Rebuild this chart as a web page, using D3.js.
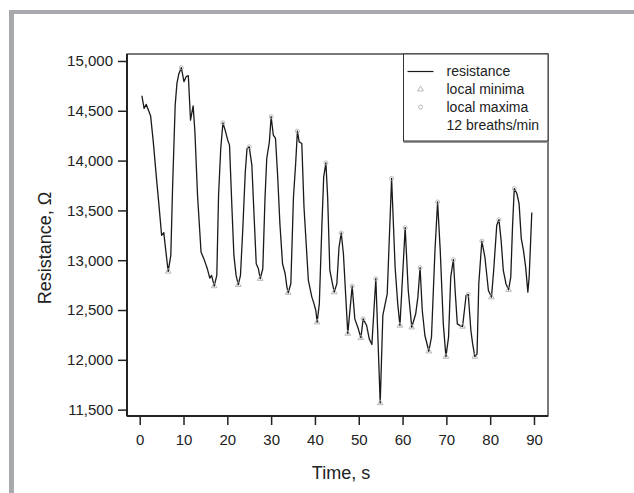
<!DOCTYPE html>
<html>

<head>
    <meta charset="utf-8">
    <script src="https://d3js.org/d3.v7.min.js"></script>
    <style>
        body { margin: 0; background: #fff; }
        text { font-family: "Liberation Sans", Arial, Helvetica, sans-serif; fill: #222; }
    </style>
</head>

<body>
    <script>
        var timeS = [0.5, 1.0, 1.5, 2.5, 3.1, 3.9, 4.4, 5.0, 5.5, 5.9, 6.5, 7.1, 7.5, 8.1, 8.5, 8.9, 9.5, 10.1, 10.6, 11.1,
            11.6, 12.2, 12.6, 13.2, 14.0, 14.7, 15.4, 16.0, 16.4, 16.8, 17.0, 17.6, 18.0, 18.5, 19.0, 19.5, 20.1, 20.5, 21.0, 21.5,
            22.0, 22.5, 23.0, 23.5, 24.1, 24.5, 25.0, 25.6, 26.0, 26.6, 27.1, 27.5, 28.1, 28.6, 29.0, 29.6, 30.0, 30.5, 31.0, 31.5,
            32.0, 32.6, 33.2, 33.6, 33.9, 34.5, 35.1, 35.6, 36.0, 36.4, 37.0, 37.5, 38.5, 39.3, 39.8, 40.2, 40.5, 41.0, 41.6, 42.0,
            42.5, 42.9, 43.4, 44.0, 44.4, 45.0, 45.5, 46.0, 46.5, 47.0, 47.5, 48.5, 49.1, 49.9, 50.5, 51.0, 51.8, 52.4, 53.0, 53.9,
            54.9, 55.5, 56.5, 57.5, 58.3, 58.9, 59.4, 60.6, 61.3, 62.1, 63.0, 63.5, 64.0, 64.5, 65.1, 66.0, 66.6, 67.4, 68.0, 68.6,
            69.3, 69.9, 70.5, 71.0, 71.6, 72.0, 72.5, 73.1, 73.7, 74.2, 74.5, 75.0, 75.6, 76.0, 76.5, 77.0, 77.4, 78.1, 78.8, 79.6,
            80.3, 80.8, 81.5, 82.0, 82.5, 83.0, 83.6, 84.2, 84.7, 85.1, 85.5, 86.1, 86.6, 87.1, 87.6, 88.1, 88.6, 88.9, 89.5];

        var resistance = [14651, 14524, 14564, 14447, 14188, 13786, 13551, 13250, 13277, 13116, 12887, 13048, 13722, 14557, 14776, 14866, 14933, 14792, 14842, 14852,
            14406, 14550, 14289, 13652, 13082, 13008, 12920, 12820, 12847, 12780, 12740, 12847, 13652, 14122, 14379, 14306, 14205, 14155, 13585, 13048,
            12847, 12753, 12847, 13283, 13886, 14122, 14138, 13954, 13551, 12965, 12914, 12814, 12914, 13619, 14021, 14188, 14440, 14256, 14222, 13836,
            13367, 12965, 12864, 12730, 12673, 12764, 13635, 13971, 14296, 14188, 14172, 13534, 12797, 12629, 12562, 12495, 12377, 12562, 13367, 13836,
            13977, 13635, 12897, 12764, 12679, 12764, 13132, 13273, 13065, 12663, 12263, 12740, 12411, 12311, 12220, 12411, 12344, 12210, 12153, 12814,
            11566, 12445, 12663, 13820, 12930, 12562, 12344, 13327, 12696, 12327, 12462, 12629, 12925, 12495, 12244, 12086, 12227, 13099, 13585, 13099,
            12361, 12032, 12227, 12830, 13005, 12696, 12361, 12344, 12334, 12528, 12646, 12656, 12294, 12160, 12032, 12059, 12764, 13192, 13030, 12696,
            12629, 12897, 13350, 13407, 13199, 12897, 12764, 12703, 12830, 13333, 13719, 13669, 13568, 13216, 13099, 12930, 12679, 12830, 13478];

        // times where the trace has a marked local minimum / maximum
        var minimaT = [6.5, 17.0, 22.5, 27.5, 33.9, 40.5, 44.4, 47.5, 50.5, 54.9, 59.4, 62.1, 66.0, 69.9, 73.7, 76.5, 80.3, 84.2];
        var maximaT = [9.5, 19.0, 25.0, 30.0, 36.0, 42.5, 46.0, 48.5, 51.0, 53.9, 57.5, 60.6, 64.0, 68.0, 71.6, 75.0, 78.1, 82.0, 85.5];

        var xTicks = [0, 10, 20, 30, 40, 50, 60, 70, 80, 90];
        var yTicks = [11500, 12000, 12500, 13000, 13500, 14000, 14500, 15000];
        var legendItems = ["resistance", "local minima", "local maxima", "12 breaths/min"];
    </script>
    <script>
        var data = timeS.map(function (t, i) { return { t: t, v: resistance[i] } });
        function lookup(t) { return data[timeS.indexOf(t)] }
        var minima = minimaT.map(lookup),
            maxima = maximaT.map(lookup);

        var outerWidth = 634, outerHeight = 493,
            margin = { top: 54, right: 86, bottom: 77, left: 127 },
            svg = d3.select("body").append("svg").attr("width", outerWidth).attr("height", outerHeight);

        var width = outerWidth - margin.left - margin.right,
            height = outerHeight - margin.top - margin.bottom;

        // grey page frame (top and left)
        svg.append("rect").attr("x", 9).attr("y", 10).attr("width", 625).attr("height", 4).attr("fill", "#a7a9ac");
        svg.append("rect").attr("x", 9).attr("y", 10).attr("width", 5).attr("height", 483).attr("fill", "#a7a9ac");

        var g = svg.append("g").attr("transform", "translate(" + margin.left + "," + margin.top + ")");

        var xScale = d3.scaleLinear().domain([-2.9, 93.2]).range([0, width]);
        var yScale = d3.scaleLinear().domain([11436, 15070]).range([height, 0]);

        var xAxis = g.append("g")
            .attr("transform", "translate(0," + height + ")")
            .call(d3.axisBottom(xScale).tickValues(xTicks).tickSize(9).tickPadding(9));
        var yAxis = g.append("g")
            .call(d3.axisLeft(yScale).tickValues(yTicks).tickFormat(d3.format(",")).tickSize(9).tickPadding(5));

        [xAxis, yAxis].forEach(function (a) {
            a.select(".domain").remove();
            a.selectAll("line").attr("stroke", "#222").attr("stroke-width", 1.5);
            a.selectAll("text").style("font-size", "15px").attr("fill", "#222");
        });

        // plot box
        g.append("rect")
            .attr("width", width).attr("height", height)
            .attr("fill", "none").attr("stroke", "#222").attr("stroke-width", 1.2);
        g.append("line").attr("x1", 0).attr("x2", 0).attr("y1", 0).attr("y2", height)
            .attr("stroke", "#222").attr("stroke-width", 2);
        g.append("line").attr("x1", 0).attr("x2", width).attr("y1", height).attr("y2", height)
            .attr("stroke", "#222").attr("stroke-width", 2);

        var lineGenerator = d3.line()
            .x(function (d) { return xScale(d.t); })
            .y(function (d) { return yScale(d.v); });

        g.append("path").datum(data)
            .attr("fill", "none")
            .attr("stroke", "#1a1a1a")
            .attr("stroke-width", 1.3)
            .attr("stroke-linejoin", "round")
            .attr("d", lineGenerator);

        var tri = d3.symbol().type(d3.symbolTriangle).size(14);

        g.selectAll(".minimum").data(minima)
            .enter().append("path")
            .attr("class", "minimum")
            .attr("d", tri)
            .attr("transform", function (d) { return "translate(" + xScale(d.t) + "," + yScale(d.v) + ")" })
            .attr("fill", "none").attr("stroke", "#aaa").attr("stroke-width", 0.8);

        g.selectAll(".maximum").data(maxima)
            .enter().append("circle")
            .attr("class", "maximum")
            .attr("cx", function (d) { return xScale(d.t) })
            .attr("cy", function (d) { return yScale(d.v) })
            .attr("r", 2)
            .attr("fill", "none").attr("stroke", "#aaa").attr("stroke-width", 0.8);

        // axis titles
        svg.append("text")
            .attr("x", 341).attr("y", 479)
            .attr("text-anchor", "middle")
            .style("font-size", "18px")
            .text("Time, s");
        svg.append("text")
            .attr("transform", "translate(51,248) rotate(-90)")
            .attr("text-anchor", "middle")
            .style("font-size", "18px")
            .text("Resistance, \u03A9");

        // legend
        var lx = 403.5, ly = 54, lw = width - (lx - margin.left), lh = 87;
        svg.append("line").attr("x1", lx).attr("x2", lx + lw).attr("y1", ly + lh + 1).attr("y2", ly + lh + 1)
            .attr("stroke", "#999").attr("stroke-width", 2);
        svg.append("rect")
            .attr("x", lx).attr("y", ly).attr("width", lw).attr("height", lh)
            .attr("fill", "#fff").attr("stroke", "#333").attr("stroke-width", 1);

        var rows = svg.selectAll(".legend-row").data(legendItems)
            .enter().append("g")
            .attr("class", "legend-row")
            .attr("transform", function (d, i) { return "translate(" + lx + "," + (ly + 17.5 + i * 17.8) + ")" });
        rows.append("text")
            .attr("x", 43).attr("dy", "0.35em")
            .style("font-size", "14px")
            .text(function (d) { return d });
        rows.filter(function (d, i) { return i === 0 }).append("line")
            .attr("x1", 4).attr("x2", 30).attr("stroke", "#1a1a1a").attr("stroke-width", 1.2);
        rows.filter(function (d, i) { return i === 1 }).append("path")
            .attr("d", tri).attr("transform", "translate(17,0)")
            .attr("fill", "none").attr("stroke", "#aaa").attr("stroke-width", 0.8);
        rows.filter(function (d, i) { return i === 2 }).append("circle")
            .attr("cx", 17).attr("r", 2)
            .attr("fill", "none").attr("stroke", "#aaa").attr("stroke-width", 0.8);
    </script>
</body>

</html>
